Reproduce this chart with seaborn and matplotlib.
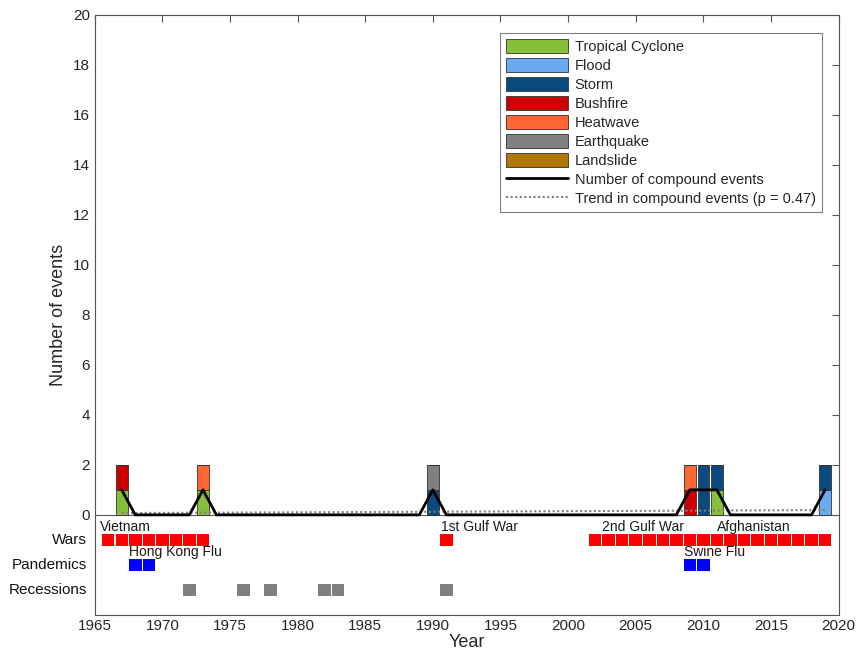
import numpy as np
import pandas as pd
import matplotlib
matplotlib.use("Agg")
import matplotlib.pyplot as plt
import seaborn as sns
from matplotlib.patches import Patch
from matplotlib.lines import Line2D

# ---------------- data ----------------
bar_years = [1967, 1973, 1990, 2009, 2010, 2011, 2019]
tropical_cyclone = [1, 1, 0, 0, 0, 1, 0]
flood = [0, 0, 0, 0, 0, 0, 1]
storm = [0, 0, 1, 0, 2, 1, 1]
bushfire = [1, 0, 0, 1, 0, 0, 0]
heatwave = [0, 1, 0, 1, 0, 0, 0]
earthquake = [0, 0, 1, 0, 0, 0, 0]
landslide = [0, 0, 0, 0, 0, 0, 0]
hazard_names = ["Tropical Cyclone", "Flood", "Storm", "Bushfire", "Heatwave",
                "Earthquake", "Landslide"]

line_years = list(range(1967, 2020))
compound_counts = [1 if y in (1967, 1973, 1990, 2009, 2010, 2011, 2019) else 0
                   for y in line_years]
trend_years = [1967, 2019]
trend_values = [0.073, 0.191]

war_years = [1966, 1967, 1968, 1969, 1970, 1971, 1972, 1973, 1991,
             2002, 2003, 2004, 2005, 2006, 2007, 2008, 2009, 2010, 2011,
             2012, 2013, 2014, 2015, 2016, 2017, 2018, 2019]
pandemic_years = [1968, 1969, 2009, 2010]
recession_years = [1972, 1976, 1978, 1982, 1983, 1991]

war_labels = ["Vietnam", "1st Gulf War", "2nd Gulf War", "Afghanistan"]
war_label_x = [1965.4, 1990.6, 2002.5, 2011.0]
pandemic_labels = ["Hong Kong Flu", "Swine Flu"]
pandemic_label_x = [1967.5, 2008.6]

row_names = ["Wars", "Pandemics", "Recessions"]
row_levels = [-1, -2, -3]

# ---------------- style ----------------
sns.set_theme(style="white")
plt.rcParams["font.family"] = ["Liberation Sans", "DejaVu Sans"]

colors = ["#86c03a", "#6aaaf0", "#0b4a7e", "#cc0000", "#ff6633", "#808080", "#b07800"]

fig = plt.figure(figsize=(8.61, 6.52), dpi=100)
ax = fig.add_axes([0.110, 0.057, 0.864, 0.920])

series = [tropical_cyclone, flood, storm, bushfire, heatwave, earthquake, landslide]
bottom = np.zeros(len(bar_years))
for vals, col in zip(series, colors):
    v = np.array(vals, dtype=float)
    ax.bar(bar_years, v, bottom=bottom, width=0.85, color=col,
           edgecolor="#333333", linewidth=0.6, zorder=2)
    bottom += v

df_line = pd.DataFrame({"year": line_years, "count": compound_counts})
sns.lineplot(data=df_line, x="year", y="count", color="black", linewidth=2.0,
             ax=ax, zorder=4)
df_trend = pd.DataFrame({"year": trend_years, "val": trend_values})
sns.lineplot(data=df_trend, x="year", y="val", color="#808080", linewidth=1.5,
             linestyle=(0, (1, 1.2)), ax=ax, zorder=3)

mk = 9
sns.scatterplot(x=war_years, y=[row_levels[0]] * len(war_years), marker="s",
                s=mk**2, color="#ff0000", edgecolor="none", ax=ax, zorder=3)
sns.scatterplot(x=pandemic_years, y=[row_levels[1]] * len(pandemic_years), marker="s",
                s=mk**2, color="#0000ff", edgecolor="none", ax=ax, zorder=3)
sns.scatterplot(x=recession_years, y=[row_levels[2]] * len(recession_years), marker="s",
                s=mk**2, color="#808080", edgecolor="none", ax=ax, zorder=3)

for lab, x in zip(war_labels, war_label_x):
    ax.text(x, row_levels[0] + 0.5, lab, fontsize=10, va="center", ha="left", color="#1a1a1a")
for lab, x in zip(pandemic_labels, pandemic_label_x):
    ax.text(x, row_levels[1] + 0.5, lab, fontsize=10, va="center", ha="left", color="#1a1a1a")

for name, lev in zip(row_names, row_levels):
    ax.text(-0.010, lev, name, transform=ax.get_yaxis_transform(), ha="right",
            va="center", fontsize=11, color="#111111")

ax.axhline(0, color="#555555", linewidth=0.8, zorder=1)

ax.set_xlim(1965, 2020)
ax.set_ylim(-4, 20)
ax.set_xticks(range(1965, 2021, 5))
ax.set_yticks(range(0, 21, 2))
ax.tick_params(axis="both", direction="in", length=5, width=0.8, labelsize=11,
               top=True, right=True, colors="#555555", labelcolor="#262626")
ax.tick_params(axis="x", pad=3)
ax.set_xlabel("Year", fontsize=13, color="#262626", labelpad=1)
ax.set_ylabel("Number of events", fontsize=13, color="#262626")
for s in ax.spines.values():
    s.set_color("#555555")
    s.set_linewidth(0.8)

handles = [Patch(facecolor=c, edgecolor="#333333", linewidth=0.6, label=n)
           for c, n in zip(colors, hazard_names)]
handles.append(Line2D([], [], color="black", linewidth=2.0, label="Number of compound events"))
handles.append(Line2D([], [], color="#808080", linewidth=1.5, linestyle=(0, (1, 1.2)),
                      label="Trend in compound events (p = 0.47)"))
leg = ax.legend(handles=handles, loc="upper right", bbox_to_anchor=(0.987, 0.982),
                fontsize=10.5, handlelength=4.2, handleheight=1.1, labelspacing=0.28,
                handletextpad=0.5, borderpad=0.4, fancybox=False, framealpha=1,
                edgecolor="#808080")
leg.get_frame().set_linewidth(0.8)

fig.savefig("out.png", dpi=100)
